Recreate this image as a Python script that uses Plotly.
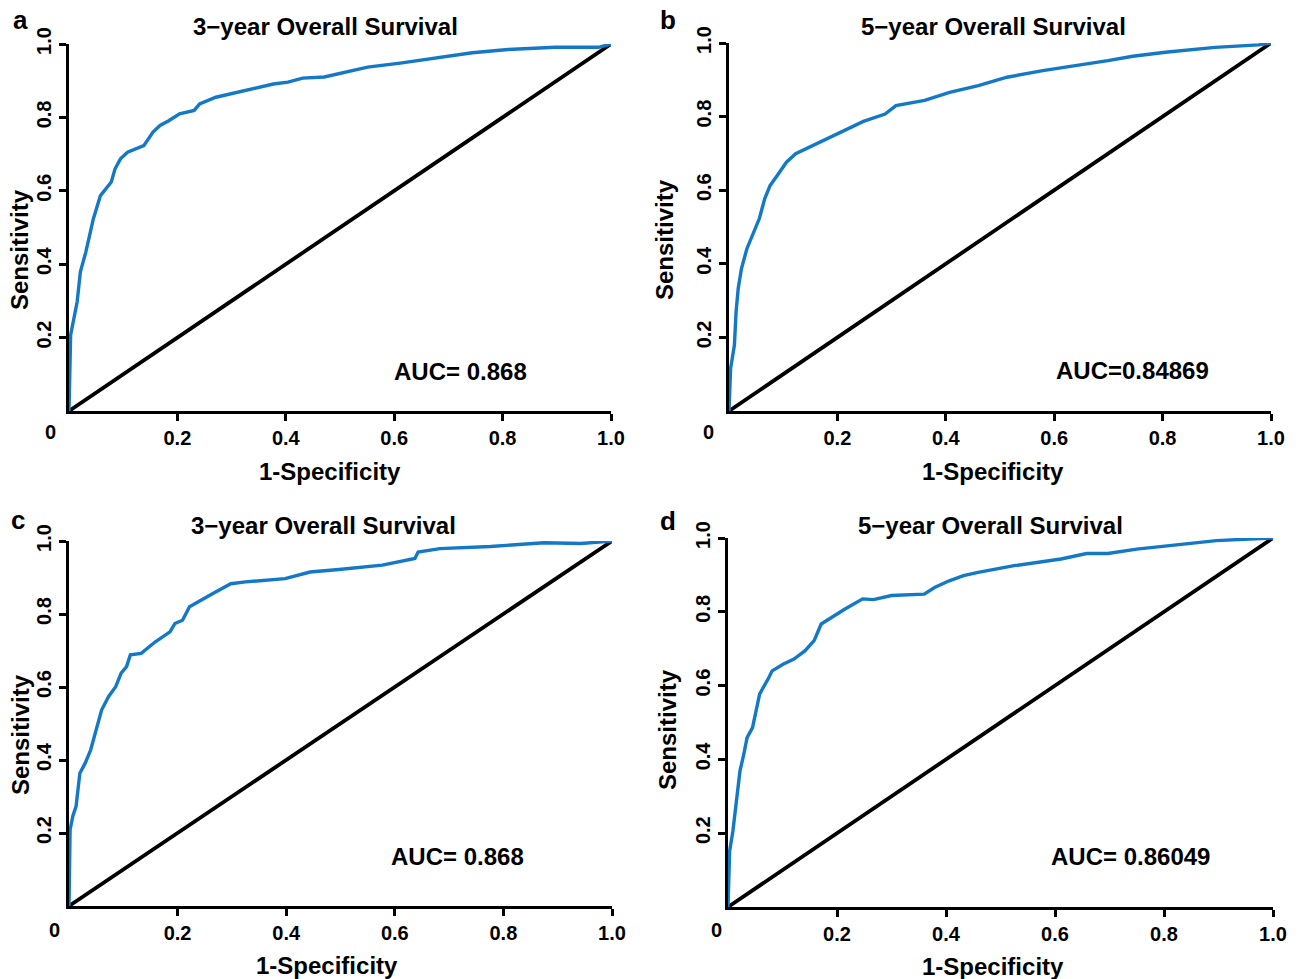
import plotly.graph_objects as go

# ---------------- data ----------------
a_fpr = [0, 0.003, 0.015, 0.021, 0.031, 0.038, 0.045, 0.058, 0.078, 0.085, 0.095, 0.108, 0.138, 0.155,
         0.168, 0.184, 0.204, 0.231, 0.241, 0.271, 0.298, 0.338, 0.377, 0.404, 0.431, 0.471, 0.511,
         0.551, 0.611, 0.677, 0.744, 0.810, 0.897, 0.977, 1.0]
a_tpr = [0, 0.207, 0.297, 0.379, 0.433, 0.479, 0.524, 0.587, 0.624, 0.660, 0.687, 0.705, 0.723, 0.760,
         0.778, 0.791, 0.810, 0.819, 0.837, 0.855, 0.864, 0.878, 0.891, 0.896, 0.907, 0.910, 0.923,
         0.937, 0.948, 0.961, 0.976, 0.985, 0.991, 0.991, 1.0]

b_fpr = [0, 0.003, 0.010, 0.013, 0.017, 0.023, 0.033, 0.043, 0.056, 0.066, 0.076, 0.089, 0.106, 0.123,
         0.156, 0.195, 0.222, 0.248, 0.288, 0.308, 0.361, 0.407, 0.460, 0.513, 0.579, 0.646, 0.699,
         0.745, 0.805, 0.897, 0.977, 1.0]
b_tpr = [0, 0.116, 0.179, 0.269, 0.333, 0.387, 0.441, 0.477, 0.523, 0.577, 0.613, 0.640, 0.676, 0.699,
         0.722, 0.749, 0.767, 0.787, 0.807, 0.830, 0.844, 0.866, 0.884, 0.907, 0.925, 0.939, 0.952,
         0.964, 0.975, 0.988, 0.995, 1.0]

c_fpr = [0, 0.002, 0.007, 0.013, 0.020, 0.030, 0.040, 0.050, 0.060, 0.073, 0.086, 0.096, 0.106, 0.113,
         0.133, 0.159, 0.186, 0.195, 0.209, 0.222, 0.245, 0.265, 0.298, 0.325, 0.398, 0.444, 0.497,
         0.577, 0.637, 0.643, 0.683, 0.776, 0.875, 0.942, 1.0]
c_tpr = [0, 0.209, 0.246, 0.273, 0.364, 0.392, 0.428, 0.483, 0.537, 0.574, 0.601, 0.638, 0.656, 0.688,
         0.692, 0.724, 0.751, 0.774, 0.783, 0.820, 0.838, 0.856, 0.883, 0.888, 0.897, 0.915, 0.922,
         0.934, 0.952, 0.970, 0.979, 0.985, 0.995, 0.993, 1.0]

d_fpr = [0, 0.003, 0.009, 0.015, 0.022, 0.029, 0.035, 0.045, 0.055, 0.058, 0.075, 0.081, 0.101, 0.121,
         0.141, 0.158, 0.171, 0.194, 0.214, 0.247, 0.267, 0.300, 0.360, 0.379, 0.406, 0.432, 0.459,
         0.525, 0.611, 0.658, 0.697, 0.750, 0.830, 0.896, 1.0]
d_tpr = [0, 0.152, 0.206, 0.278, 0.369, 0.414, 0.459, 0.486, 0.550, 0.577, 0.622, 0.640, 0.658, 0.672,
         0.694, 0.722, 0.767, 0.789, 0.807, 0.835, 0.833, 0.844, 0.848, 0.866, 0.884, 0.898, 0.907,
         0.925, 0.943, 0.958, 0.958, 0.970, 0.982, 0.993, 1.0]

panel_letters = ["a", "b", "c", "d"]
panel_titles = ["3\u2212year Overall Survival", "5\u2212year Overall Survival",
                "3\u2212year Overall Survival", "5\u2212year Overall Survival"]
auc_labels = ["AUC= 0.868", "AUC=0.84869", "AUC= 0.868", "AUC= 0.86049"]
tick_vals = [0.2, 0.4, 0.6, 0.8, 1.0]
tick_text = ["0.2", "0.4", "0.6", "0.8", "1.0"]
x_title = "1-Specificity"
y_title = "Sensitivity"

curves = [(a_fpr, a_tpr), (b_fpr, b_tpr), (c_fpr, c_tpr), (d_fpr, d_tpr)]

# ---------------- layout geometry (pixels) ----------------
W, H = 1298, 979
# (x_left, x_right, y_top, y_bottom) of each plot area
boxes = [(69, 611, 44, 411), (729, 1271, 43, 411), (69, 612, 541, 906), (728, 1273, 538, 907)]
title_pos = [(325, 27), (993, 27), (323, 525), (990, 525)]
letter_pos = [(20, 20), (668, 20), (18, 520), (668, 521)]
zero_pos = [(50, 432), (708, 432), (54, 930), (716, 930)]
xt_pos = [(330, 471), (993, 471), (327, 965), (993, 966)]
yt_pos = [(20, 250), (665, 240), (20, 735), (667, 730)]
auc_pos = [(0.723, 0.109), (0.744, 0.109), (0.716, 0.137), (0.739, 0.138)]  # axis fractions

FONT = "Liberation Sans, Arial, sans-serif"
BLUE = "#1379c6"

fig = go.Figure()
annotations = []
layout_axes = {}

def px(x):
    return x / W

def py(y):
    return 1 - y / H

for i, ((fpr, tpr), (x0, x1, y0, y1)) in enumerate(zip(curves, boxes)):
    n = i + 1
    xa = "x" if n == 1 else f"x{n}"
    ya = "y" if n == 1 else f"y{n}"
    fig.add_trace(go.Scatter(x=[0, 1], y=[0, 1], mode="lines", xaxis=xa, yaxis=ya,
                             line=dict(color="black", width=3.8), showlegend=False,
                             hoverinfo="skip", cliponaxis=False))
    fig.add_trace(go.Scatter(x=fpr, y=tpr, mode="lines", xaxis=xa, yaxis=ya,
                             line=dict(color=BLUE, width=3.4), showlegend=False,
                             cliponaxis=False))
    axis_common = dict(range=[0, 1], showgrid=False, zeroline=False, showline=True,
                       linecolor="black", linewidth=3, ticks="outside", ticklen=7,
                       tickwidth=2.5, tickcolor="black", tickvals=tick_vals, ticktext=tick_text,
                       tickfont=dict(family=FONT, size=20, color="black", weight="bold"),
                       fixedrange=True, automargin=False)
    layout_axes["xaxis" if n == 1 else f"xaxis{n}"] = dict(
        axis_common, domain=[px(x0), px(x1)], anchor=ya)
    layout_axes["yaxis" if n == 1 else f"yaxis{n}"] = dict(
        axis_common, domain=[py(y1), py(y0)], anchor=xa, tickangle=-90)

    big = dict(family=FONT, size=24, color="black", weight="bold")
    annotations.append(dict(x=px(title_pos[i][0]), y=py(title_pos[i][1]), xref="paper",
                            yref="paper", text=panel_titles[i], showarrow=False, font=big,
                            xanchor="center", yanchor="middle"))
    annotations.append(dict(x=px(letter_pos[i][0]), y=py(letter_pos[i][1]), xref="paper",
                            yref="paper", text=panel_letters[i], showarrow=False,
                            font=dict(family=FONT, size=26, color="black", weight="bold"),
                            xanchor="center", yanchor="middle"))
    annotations.append(dict(x=px(zero_pos[i][0]), y=py(zero_pos[i][1]), xref="paper",
                            yref="paper", text="0", showarrow=False,
                            font=dict(family=FONT, size=20, color="black", weight="bold"),
                            xanchor="center", yanchor="middle"))
    annotations.append(dict(x=px(xt_pos[i][0]), y=py(xt_pos[i][1]), xref="paper",
                            yref="paper", text=x_title, showarrow=False, font=big,
                            xanchor="center", yanchor="middle"))
    annotations.append(dict(x=px(yt_pos[i][0]), y=py(yt_pos[i][1]), xref="paper",
                            yref="paper", text=y_title, showarrow=False, font=big,
                            textangle=-90, xanchor="center", yanchor="middle"))
    annotations.append(dict(x=auc_pos[i][0], y=auc_pos[i][1], xref=xa, yref=ya,
                            text=auc_labels[i], showarrow=False, font=big,
                            xanchor="center", yanchor="middle"))

fig.update_layout(width=W, height=H,
                  margin=dict(l=0, r=0, t=0, b=0, pad=0, autoexpand=False),
                  paper_bgcolor="white", plot_bgcolor="white",
                  annotations=annotations, **layout_axes)

fig.write_html("out.html", config={"displayModeBar": False})
